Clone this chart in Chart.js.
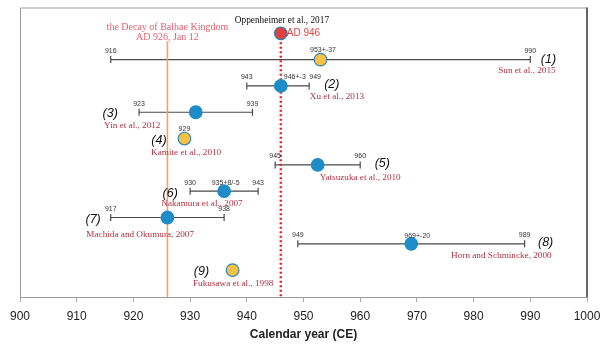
<!DOCTYPE html>
<html><head><meta charset="utf-8">
<script src="https://cdn.jsdelivr.net/npm/chart.js@4"></script>
<style>html,body{margin:0;padding:0;background:#fff}#wrap{width:610px;height:350px}</style>
</head><body><div id="wrap"><canvas id="c"></canvas></div>
<script>
// ---- data ----
const studies = ['Oppenheimer et al., 2017','Sun et al., 2015','Xu et al., 2013','Yin et al., 2012','Kamite et al., 2010','Yatsuzuka et al., 2010','Nakamura et al., 2007','Machida and Okumura, 2007','Horn and Schmincke, 2000','Fukusawa et al., 1998'];
const studyNumbers = ['', '(1)','(2)','(3)','(4)','(5)','(6)','(7)','(8)','(9)'];
const eruptionYears = [946, 953, 946, 931, 929, 952.5, 936, 926, 969, 937.5];
const rangeLow  = [null, 916, 940, 921, null, 945, 930, 916, 949, null];
const rangeHigh = [null, 990, 951, 941, null, 960, 942, 936, 989, null];
const lowLabels  = ['', '916', '943', '923', '', '945', '930', '917', '949', ''];
const highLabels = ['', '990', '949', '939', '', '960', '943', '938', '989', ''];
const pointLabels = ['', '953+-37', '946+-3', '', '929', '', '935+8/-5', '', '969+-20', ''];
const markerKind = ['red','yellow','blue','blue','yellow','blue','blue','blue','blue','yellow'];
const xTickValues = [900,910,920,930,940,950,960,970,980,990,1000];
const balhaeYear = 926;
const balhaeText = ['the Decay of Balhae Kingdom','AD 926, Jan 12'];
const oppenheimerYear = 946;
const oppenheimerText = 'AD 946';

// ---- layout of annotations (positions only) ----
const authorX  = [946.2, 989.4, 955.9, 919.8, 929.3, 960.0, 932.1, 921.2, 984.9, 937.6];
const authorDy = [-12.5, 11, 10.5, 13.5, 13.7, 13, 12.7, 16.6, 12, 13.3];
const numX  = [null, 993.2, 955.0, 915.9, 924.5, 963.9, 926.5, 912.9, 992.7, 932.0];
const numDy = [0, 0, -1, 1, 2, -1, 2, 2, -1, 1];
const pointLabelDx = [0, 2.5, 14, 0, 0, 0, 1.5, 0, 6, 0];
const pointLabelDy = [0, -10, -8.5, 0, -9.5, 0, -8, 0, -8, 0];
const highLabelDx = [0, 0, 6, 0, 0, 0, 0, 0, 0, 0];
const endLabelDy = -8.5;

const fillColors = {red:'#e0403f', yellow:'#f6c244', blue:'#1e8cc6'};
const edgeColors = {red:'#2f7fb0', yellow:'#2f86bd', blue:'#1e8cc6'};

const rows = studies.map((s,i)=>i);

const annot = {
  id:'annot',
  beforeDatasetsDraw(chart){
    const {ctx, chartArea:a, scales:{x,y}} = chart;
    ctx.save();
    ctx.strokeStyle='#9a9a9a'; ctx.lineWidth=1;
    ctx.beginPath();
    ctx.moveTo(a.left+0.5,a.bottom); ctx.lineTo(a.left+0.5,a.top+0.5); ctx.lineTo(a.right,a.top+0.5);
    ctx.stroke();
    ctx.strokeStyle='#666'; ctx.lineWidth=2;
    ctx.beginPath(); ctx.moveTo(a.right,a.top); ctx.lineTo(a.right,a.bottom); ctx.stroke();
    ctx.strokeStyle='#4a4a4a'; ctx.lineWidth=1.2;
    rows.forEach(i=>{
      if(rangeLow[i]==null) return;
      const x1=x.getPixelForValue(rangeLow[i]), x2=x.getPixelForValue(rangeHigh[i]), yy=y.getPixelForValue(i);
      ctx.beginPath();
      ctx.moveTo(x1,yy); ctx.lineTo(x2,yy);
      ctx.moveTo(x1,yy-3.5); ctx.lineTo(x1,yy+3.5);
      ctx.moveTo(x2,yy-3.5); ctx.lineTo(x2,yy+3.5);
      ctx.stroke();
    });
    ctx.restore();
  },
  afterDatasetsDraw(chart){
    const {ctx, scales:{x,y}} = chart;
    ctx.save();
    ctx.textAlign='center'; ctx.textBaseline='middle';
    ctx.fillStyle='#333'; ctx.font='7px "Liberation Sans", sans-serif';
    rows.forEach(i=>{
      const yy=y.getPixelForValue(i);
      if(rangeLow[i]!=null){
        ctx.fillText(lowLabels[i], x.getPixelForValue(rangeLow[i]), yy+endLabelDy);
        ctx.fillText(highLabels[i], x.getPixelForValue(rangeHigh[i])+highLabelDx[i], yy+endLabelDy);
      }
      if(pointLabels[i]){
        ctx.fillText(pointLabels[i], x.getPixelForValue(eruptionYears[i])+pointLabelDx[i], yy+pointLabelDy[i]);
      }
    });
    ctx.fillStyle='#111'; ctx.font='italic 12.5px "Liberation Sans", sans-serif';
    rows.forEach(i=>{
      if(!studyNumbers[i]) return;
      ctx.fillText(studyNumbers[i], x.getPixelForValue(numX[i]), y.getPixelForValue(i)+numDy[i]);
    });
    rows.forEach(i=>{
      ctx.fillStyle = i===0 ? '#111' : '#b3303f';
      ctx.font = i===0 ? '9.3px "Liberation Serif", serif' : '9.2px "Liberation Serif", serif';
      ctx.fillText(studies[i], x.getPixelForValue(authorX[i]), y.getPixelForValue(i)+authorDy[i]);
    });
    ctx.fillStyle='#e0403f'; ctx.font='10px "Liberation Sans", sans-serif'; ctx.textAlign='left';
    ctx.fillText(oppenheimerText, x.getPixelForValue(oppenheimerYear)+6, y.getPixelForValue(0));
    ctx.fillStyle='#e0606e'; ctx.font='10px "Liberation Serif", serif'; ctx.textAlign='center';
    const bx=x.getPixelForValue(balhaeYear), by=y.getPixelForValue(0);
    ctx.fillText(balhaeText[0], bx, by-6);
    ctx.fillText(balhaeText[1], bx, by+4);
    ctx.restore();
  }
};

new Chart(document.getElementById('c'), {
  type:'scatter',
  data:{
    datasets:[
      {
        label:'estimates',
        data: rows.map(i=>({x:eruptionYears[i], y:i})),
        pointRadius:6.3, pointHoverRadius:6.3,
        pointBackgroundColor: rows.map(i=>fillColors[markerKind[i]]),
        pointBorderColor: rows.map(i=>edgeColors[markerKind[i]]),
        pointBorderWidth:1.2,
        showLine:false, order:0
      },
      {
        label:'Balhae',
        data:[{x:balhaeYear,y:0.3},{x:balhaeYear,y:10.02}],
        showLine:true, borderColor:'#f2a468', borderWidth:1.6, pointRadius:0, order:2
      },
      {
        label:'Oppenheimer',
        data:[{x:oppenheimerYear,y:0},{x:oppenheimerYear,y:10.02}],
        showLine:true, borderColor:'#e8202a', borderWidth:2.5, borderDash:[2,2.5], pointRadius:0, order:1
      }
    ]
  },
  options:{
    responsive:true, maintainAspectRatio:false, devicePixelRatio:1, animation:false,
    layout:{padding:{left:20,right:23,top:6,bottom:0}},
    plugins:{legend:{display:false}, tooltip:{enabled:false}},
    scales:{
      x:{
        type:'linear', min:900, max:1000,
        afterBuildTicks(s){ s.ticks = xTickValues.map(v=>({value:v})); },
        afterFit(s){ s.height = 53; },
        ticks:{font:{family:'"Liberation Sans", sans-serif', size:12}, color:'#222', padding:7, maxRotation:0,
               callback:(v)=>String(v)},
        grid:{drawOnChartArea:false, drawTicks:true, tickLength:5, color:'#aaaaaa'},
        border:{display:true, color:'#9a9a9a'},
        title:{display:true, text:'Calendar year (CE)', font:{family:'"Liberation Sans", sans-serif', size:12, weight:'bold'}, color:'#222', padding:{top:4,bottom:8}}
      },
      y:{type:'linear', min:-0.98, max:10.02, reverse:true, display:false}
    }
  },
  plugins:[annot]
});
</script>
</body></html>
